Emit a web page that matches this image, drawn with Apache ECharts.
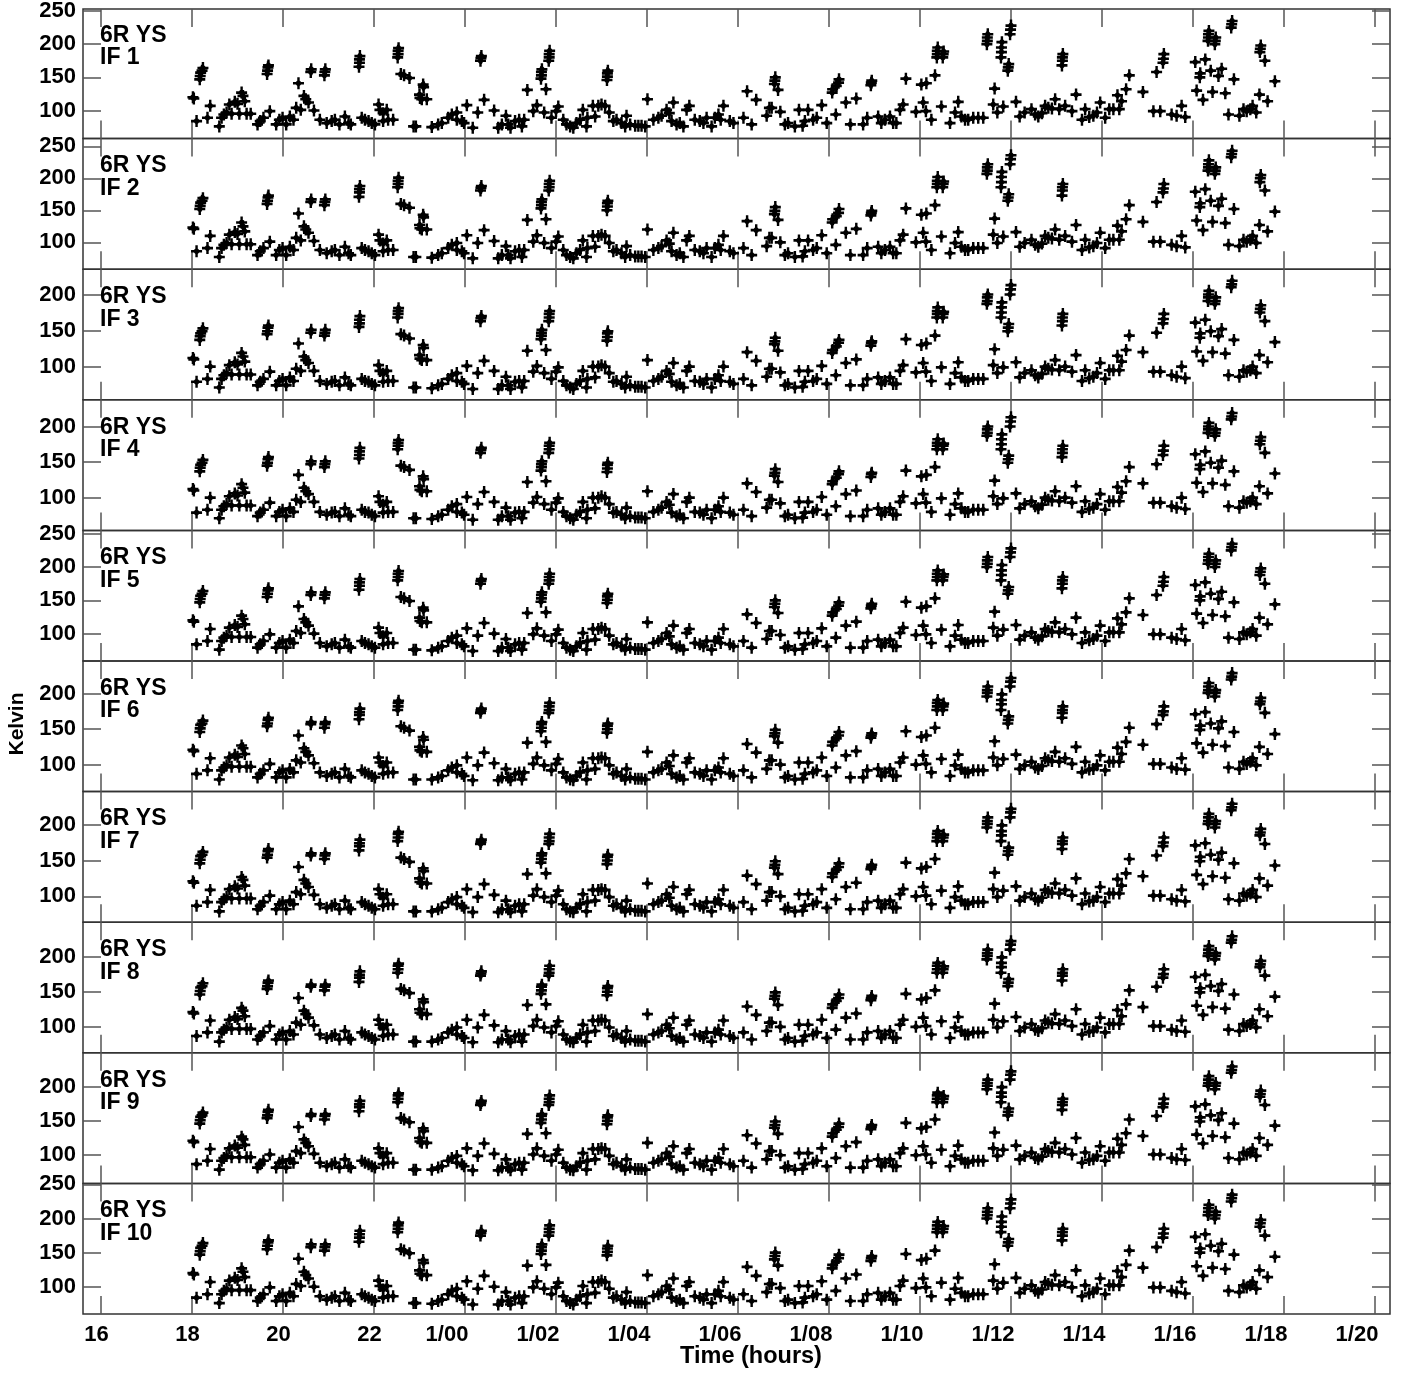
<!DOCTYPE html>
<html><head><meta charset="utf-8">
<script src="https://cdn.jsdelivr.net/npm/echarts@6/dist/echarts.min.js"></script>
<style>html,body{margin:0;padding:0;background:#fff}#c{width:1404px;height:1373px}</style>
</head><body><div id="c"></div>
<script>
// ---- data ----
const hours = [
18.02,18.04,18.10,18.17,18.18,18.19,18.22,18.24,18.34,18.40,18.60,18.65,18.70,18.76,18.82,18.87,18.94,19.00,19.04,19.09,
19.12,19.16,19.20,19.29,19.44,19.50,19.57,19.65,19.66,19.67,19.68,19.71,19.85,19.92,19.99,20.07,20.15,20.23,20.29,20.34,
20.39,20.46,20.50,20.56,20.61,20.62,20.68,20.81,20.91,20.92,20.93,20.96,21.07,21.14,21.24,21.36,21.44,21.49,21.67,21.68,
21.68,21.69,21.73,21.80,21.88,21.95,22.02,22.10,22.13,22.20,22.20,22.28,22.31,22.42,22.52,22.53,22.53,22.54,22.59,22.66,
22.78,22.87,22.92,23.00,23.01,23.05,23.08,23.09,23.16,23.27,23.41,23.49,23.63,23.71,23.82,23.82,23.93,23.98,24.04,24.17,
24.28,24.34,24.35,24.36,24.42,24.64,24.73,24.81,24.90,24.95,25.00,25.10,25.19,25.25,25.30,25.37,25.50,25.58,25.67,25.68,
25.68,25.69,25.74,25.78,25.84,25.85,25.85,25.86,25.90,26.00,26.05,26.16,26.23,26.31,26.38,26.45,26.53,26.59,26.67,26.69,
26.81,26.86,26.93,27.00,27.08,27.12,27.13,27.13,27.14,27.17,27.26,27.33,27.44,27.52,27.55,27.63,27.74,27.81,27.88,27.96,
28.01,28.14,28.25,28.32,28.43,28.49,28.54,28.58,28.65,28.72,28.80,28.87,28.93,29.05,29.16,29.24,29.31,29.42,29.49,29.57,
29.62,29.68,29.82,29.90,30.12,30.20,30.30,30.40,30.63,30.69,30.74,30.80,30.81,30.82,30.88,30.93,31.03,31.10,31.25,31.34,
31.42,31.47,31.54,31.65,31.73,31.84,31.95,32.07,32.08,32.15,32.16,32.21,32.22,32.37,32.47,32.60,32.75,32.84,32.92,32.93,
32.94,33.08,33.15,33.23,33.34,33.41,33.48,33.56,33.63,33.69,33.91,34.03,34.07,34.13,34.14,34.25,34.33,34.37,34.38,34.38,
34.39,34.47,34.50,34.51,34.52,34.66,34.77,34.84,34.91,34.99,35.06,35.17,35.28,35.39,35.47,35.48,35.48,35.49,35.61,35.64,
35.70,35.78,35.79,35.79,35.80,35.83,35.93,35.94,35.95,35.98,35.99,36.00,36.11,36.19,36.30,36.45,36.53,36.60,36.68,36.75,
36.82,36.90,36.97,37.06,37.12,37.13,37.13,37.14,37.19,37.34,37.43,37.56,37.63,37.72,37.81,37.89,37.96,38.07,38.16,38.25,
38.34,38.38,38.43,38.53,38.60,38.90,39.13,39.20,39.28,39.34,39.35,39.36,39.53,39.64,39.75,39.83,40.05,40.08,40.15,40.16,
40.22,40.27,40.33,40.34,40.34,40.35,40.39,40.43,40.48,40.49,40.50,40.56,40.63,40.71,40.78,40.84,40.85,40.86,40.90,41.02,
41.11,41.18,41.26,41.31,41.39,41.46,41.47,41.48,41.49,41.58,41.64,41.80
];
// IF 1 (IF 5 and IF 10 read the same within reading precision)
const kelvinIF1 = [
120,118,84,147,152,157,160,164,89,107,76,89,94,97,109,95,113,110,95,127,
122,114,95,95,79,84,89,155,160,165,168,99,79,86,89,79,91,86,104,141,
101,122,117,112,158,162,100,86,153,158,162,81,84,86,79,91,81,79,166,172,
177,182,89,86,84,81,79,109,101,96,84,101,86,86,180,185,190,194,155,153,
149,76,76,124,119,117,139,135,117,75,79,81,89,94,97,86,84,81,108,74,
97,175,179,182,116,100,74,79,92,79,74,84,86,76,86,131,99,108,148,153,
158,162,97,132,175,180,185,190,89,99,106,86,79,76,74,81,86,101,76,89,
107,91,107,109,107,146,151,156,160,97,84,86,81,76,92,79,77,77,77,76,
117,86,89,92,101,96,84,112,79,81,76,101,107,86,84,81,89,76,89,94,
86,107,84,81,89,129,79,116,92,104,104,140,145,150,131,98,79,81,76,101,
77,84,101,86,89,108,81,127,132,94,137,142,147,112,79,118,79,89,138,142,
145,91,81,86,91,81,81,101,109,148,98,139,112,99,141,86,153,180,185,190,
195,106,180,185,189,81,97,113,91,86,86,89,89,89,200,205,210,215,109,133,
97,180,188,195,203,106,160,165,170,215,222,228,113,91,97,102,94,91,96,107,
104,103,117,102,168,175,180,185,107,99,124,86,102,90,92,97,112,89,102,102,
123,102,114,132,153,128,99,158,99,172,178,185,94,92,107,90,173,130,150,156,
116,177,205,210,215,220,160,128,200,205,210,152,163,126,94,225,230,235,147,92,
102,99,102,107,97,124,188,193,198,175,114,144
];
// IF 2
const kelvinIF2 = [
123,121,86,152,157,162,165,169,91,110,77,91,96,99,112,97,116,113,97,131,
125,117,97,97,80,86,91,160,165,170,173,101,80,88,91,80,93,88,107,145,
103,125,120,115,163,167,102,88,158,163,167,83,86,88,80,93,83,80,171,178,
183,188,91,88,86,83,80,112,103,98,86,103,88,88,186,191,196,201,160,158,
154,77,77,127,122,120,143,139,120,76,80,83,91,96,99,88,86,83,111,75,
99,181,185,188,119,102,75,80,94,80,75,86,88,77,88,135,101,111,153,158,
163,167,99,136,181,186,191,196,91,101,109,88,80,77,75,83,88,103,77,91,
110,93,110,112,110,150,156,161,165,99,86,88,83,77,94,80,78,78,78,77,
120,88,91,94,103,98,86,115,80,83,77,103,110,88,86,83,91,77,91,96,
88,110,86,83,91,133,80,119,94,107,107,144,149,155,135,100,80,83,77,103,
78,86,103,88,91,111,83,131,136,96,141,146,152,115,80,121,80,91,142,146,
149,93,83,88,93,83,83,103,112,153,100,143,115,101,145,88,158,186,191,196,
202,109,186,191,195,83,99,116,93,88,88,91,91,91,207,212,217,222,112,137,
99,186,194,202,210,109,165,170,175,222,230,236,116,93,99,104,96,93,98,110,
107,106,120,104,173,181,186,191,110,101,127,88,104,92,94,99,115,91,104,104,
126,104,117,136,158,132,101,163,101,178,184,191,96,94,110,92,179,134,155,161,
119,183,212,217,222,228,165,132,207,212,217,157,168,130,96,233,238,243,152,94,
104,101,104,110,99,127,194,200,205,181,117,148
];
// IF 3 (IF 4 reads the same within reading precision)
const kelvinIF3 = [
112,110,79,137,142,146,149,153,83,100,71,83,88,91,102,89,106,103,89,119,
114,107,89,89,74,79,83,145,149,154,157,93,74,80,83,74,85,80,97,132,
94,114,109,105,147,151,94,80,143,147,151,76,79,80,74,85,76,74,155,160,
165,170,83,80,79,76,74,102,94,90,79,94,80,80,168,173,177,181,145,143,
139,71,71,116,111,109,130,126,109,70,74,76,83,88,91,80,79,76,101,69,
91,163,167,170,108,94,69,74,86,74,69,79,80,71,80,122,93,101,138,143,
147,151,91,123,163,168,173,177,83,93,99,80,74,71,69,76,80,94,71,83,
100,85,100,102,100,136,141,146,149,91,79,80,76,71,86,74,72,72,72,71,
109,80,83,86,94,90,79,105,74,76,71,94,100,80,79,76,83,71,83,88,
80,100,79,76,83,120,74,108,86,97,97,131,135,140,122,92,74,76,71,94,
72,79,94,80,83,101,76,119,123,88,128,133,137,105,74,110,74,83,129,133,
135,85,76,80,85,76,76,94,102,138,92,130,105,93,132,80,143,168,173,177,
182,99,168,173,176,76,91,106,85,80,80,83,83,83,187,191,196,200,102,124,
91,168,175,182,189,99,149,154,159,200,207,213,106,85,91,95,88,85,90,100,
97,96,109,95,157,163,168,173,100,93,116,80,95,84,86,91,105,83,95,95,
115,95,107,123,143,120,93,147,93,160,166,173,88,86,100,84,161,121,140,146,
108,165,191,196,200,205,149,120,187,191,196,142,152,118,88,210,214,219,137,86,
95,93,95,100,91,116,175,180,185,163,106,134
];
// IF 6 (IF 7, IF 8 and IF 9 read the same within reading precision)
const kelvinIF6 = [
121,119,87,146,151,156,158,162,92,109,79,92,96,99,110,97,114,111,97,127,
123,115,97,97,82,87,92,154,158,163,166,101,82,89,92,82,94,89,106,141,
103,123,118,113,157,160,102,89,152,157,160,84,87,89,82,94,84,82,164,170,
174,179,92,89,87,84,82,110,103,98,87,103,89,89,177,182,187,190,154,152,
148,79,79,125,120,118,139,135,118,79,82,84,92,96,99,89,87,84,110,78,
99,173,176,179,117,102,78,82,94,82,78,87,89,79,89,131,101,110,147,152,
157,160,99,132,173,177,182,187,92,101,108,89,82,79,78,84,89,103,79,92,
109,94,109,110,109,145,150,155,158,99,87,89,84,79,94,82,80,80,80,79,
118,89,92,94,103,98,87,113,82,84,79,103,109,89,87,84,92,79,92,96,
89,109,87,84,92,129,82,117,94,106,106,140,144,149,131,100,82,84,79,103,
80,87,103,89,92,110,84,127,132,96,137,141,146,113,82,119,82,92,138,141,
144,94,84,89,94,84,84,103,110,147,100,139,113,101,141,89,152,177,182,187,
191,108,177,182,186,84,99,114,94,89,89,92,92,92,196,201,205,210,110,133,
99,177,185,191,199,108,158,163,168,210,217,222,114,94,99,104,96,94,98,109,
106,105,118,104,166,173,177,182,109,101,125,89,104,93,94,99,113,92,104,104,
124,104,115,132,152,128,101,157,101,170,175,182,96,94,109,93,171,130,149,155,
117,174,201,205,210,215,158,128,196,201,205,151,161,126,96,220,224,229,146,94,
104,101,104,109,99,125,185,189,194,173,115,143
];
const panelNames = ['IF 1','IF 2','IF 3','IF 4','IF 5','IF 6','IF 7','IF 8','IF 9','IF 10'];
const panelValues = [kelvinIF1,kelvinIF2,kelvinIF3,kelvinIF3,kelvinIF1,kelvinIF6,kelvinIF6,kelvinIF6,kelvinIF6,kelvinIF1];
const panelMin = [57.6,58,54,54,59,62,64,63,59,60];
const panelMax = [253,262,235,237.5,255,246,246,249,249,251.5];
const xTickValues = [16,18,20,22,24,26,28,30,32,34,36,38,40,42,44];
const yTickValues = [100,150,200,250];
const antennaLabel = '6R YS';
const xTitle = 'Time (hours)';
const yTitle = 'Kelvin';

// ---- chart ----
const chart = echarts.init(document.getElementById('c'), null, {renderer:'canvas', width:1404, height:1373});
const FONT = 'Liberation Sans';
const TOP = 8, PH = 130.6, LEFT = 83, RIGHT = 14;
const XMIN = 15.604, XMAX = 44.33;
const labelFont = {fontFamily:FONT, fontWeight:'bold', fontSize:22, color:'#000'};
const fmtHour = v => v < 24 ? '{h|' + v + '}' : '{d|1/' + String(v - 24).padStart(2, '0') + '}';
const grids = [], xAxes = [], yAxes = [], series = [], graphics = [];
const tickLine = {color:'#555', width:1.5};
const crossPath = 'path://M0,3.9H10V6.1H0Z M3.9,0H6.1V10H3.9Z M5,1.6L8.4,5L5,8.4L1.6,5Z';

for (let i = 0; i < 10; i++) {
  const top = TOP + i * PH;
  const last = i === 9;
  grids.push({left:LEFT, right:RIGHT, top:top, height:PH, show:true, borderColor:'#333', borderWidth:1.5, backgroundColor:'transparent'});
  xAxes.push({
    gridIndex:i, type:'value', min:XMIN, max:XMAX, position:'bottom',
    axisLine:{show:false}, splitLine:{show:false},
    axisTick:{show:true, inside:true, length:18, customValues:xTickValues, lineStyle:tickLine},
    axisLabel:{show:last, customValues:xTickValues, formatter:fmtHour, margin:10,
      fontFamily:FONT, fontWeight:'bold', fontSize:22, color:'#000',
      rich:{h:Object.assign({padding:[0,9,0,0]}, labelFont), d:Object.assign({padding:[0,36,0,0]}, labelFont)}}
  });
  xAxes.push({
    gridIndex:i, type:'value', min:XMIN, max:XMAX, position:'top',
    axisLine:{show:false}, splitLine:{show:false},
    axisTick:{show:true, inside:true, length:18, customValues:xTickValues, lineStyle:tickLine},
    axisLabel:{show:false}
  });
  const yv = yTickValues.filter(v => v >= panelMin[i] && v <= panelMax[i]);
  yAxes.push({
    gridIndex:i, type:'value', min:panelMin[i], max:panelMax[i], position:'left',
    axisLine:{show:false}, splitLine:{show:false},
    axisTick:{show:true, inside:true, length:18, customValues:yv, lineStyle:tickLine},
    axisLabel:{show:true, customValues:yv, fontFamily:FONT, fontWeight:'bold', fontSize:22, color:'#000', margin:7}
  });
  yAxes.push({
    gridIndex:i, type:'value', min:panelMin[i], max:panelMax[i], position:'right',
    axisLine:{show:false}, splitLine:{show:false},
    axisTick:{show:true, inside:true, length:18, customValues:yv, lineStyle:tickLine},
    axisLabel:{show:false}
  });
  const vals = panelValues[i];
  series.push({
    type:'scatter', xAxisIndex:2*i, yAxisIndex:2*i, silent:true,
    symbol:crossPath, symbolSize:[11,12], symbolKeepAspect:false,
    itemStyle:{color:'#000', opacity:1},
    data: hours.map((h, k) => [h, vals[k]])
  });
  graphics.push({type:'text', x:100, y:top + 27.5, silent:true,
    style:{text:antennaLabel, fill:'#000', font:'bold 23px "Liberation Sans"', verticalAlign:'middle', align:'left'}});
  graphics.push({type:'text', x:100, y:top + 50, silent:true,
    style:{text:panelNames[i], fill:'#000', font:'bold 23px "Liberation Sans"', verticalAlign:'middle', align:'left'}});
}
graphics.push({type:'text', x:17, y:724, rotation:Math.PI/2, silent:true,
  style:{text:yTitle, fill:'#000', font:'bold 21px "Liberation Sans"', verticalAlign:'middle', align:'center'}});
graphics.push({type:'text', x:751, y:1357, silent:true,
  style:{text:xTitle, fill:'#000', font:'bold 23.5px "Liberation Sans"', verticalAlign:'middle', align:'center'}});

chart.setOption({
  animation:false,
  backgroundColor:'#fff',
  grid:grids, xAxis:xAxes, yAxis:yAxes, series:series, graphic:graphics
});
</script>
</body></html>
